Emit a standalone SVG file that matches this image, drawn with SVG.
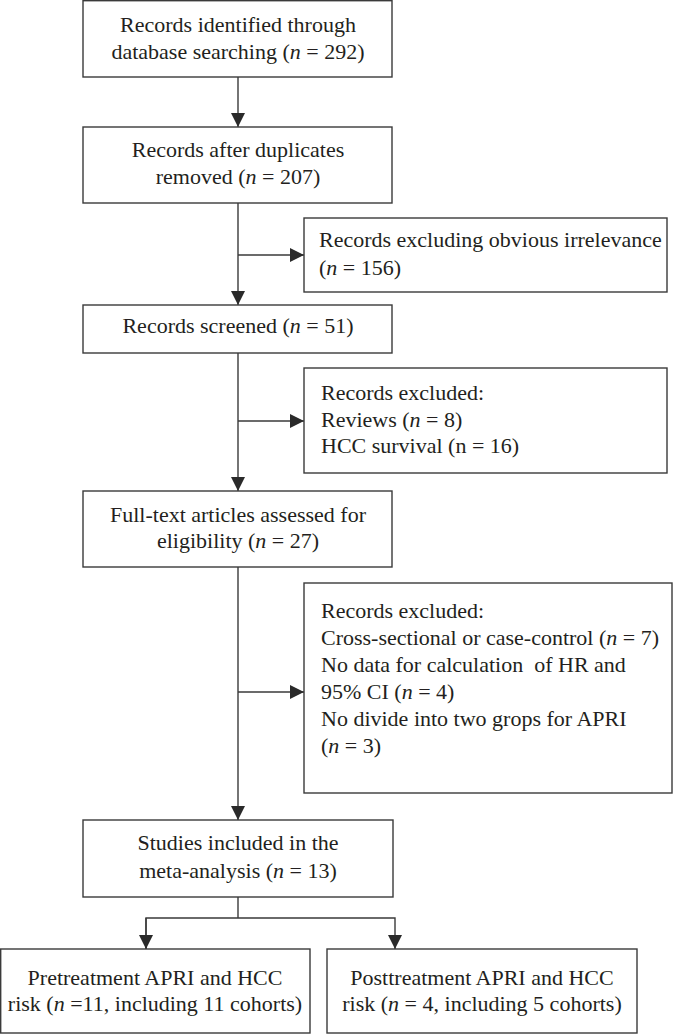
<svg xmlns="http://www.w3.org/2000/svg" width="673" height="1035" viewBox="0 0 673 1035">
<defs>
<style>
.box{fill:#fff;stroke:#3a3a3a;stroke-width:1.4}
.ln{fill:none;stroke:#3a3a3a;stroke-width:1.4}
text{font-family:"Liberation Serif","Times New Roman",serif;font-size:22px;fill:#231f20}
.c{text-anchor:middle}
.i{font-style:italic}
</style>
<marker id="ah" markerUnits="userSpaceOnUse" markerWidth="14" markerHeight="14" viewBox="0 0 12 12" refX="12" refY="6" orient="auto">
<path d="M0,0 L12,6 L0,12 Z" fill="#2a2a2a"/>
</marker>
</defs>
<rect width="673" height="1035" fill="#fff"/>
<g id="connectors">
<line class="ln" x1="238" y1="77" x2="238" y2="127" marker-end="url(#ah)"/>
<line class="ln" x1="238" y1="203" x2="238" y2="305" marker-end="url(#ah)"/>
<line class="ln" x1="238" y1="255" x2="304" y2="255" marker-end="url(#ah)"/>
<line class="ln" x1="238" y1="353" x2="238" y2="491" marker-end="url(#ah)"/>
<line class="ln" x1="238" y1="421" x2="304" y2="421" marker-end="url(#ah)"/>
<line class="ln" x1="238" y1="567" x2="238" y2="820" marker-end="url(#ah)"/>
<line class="ln" x1="238" y1="692" x2="304" y2="692" marker-end="url(#ah)"/>
<line class="ln" x1="238" y1="897" x2="238" y2="918"/>
<polyline class="ln" points="146,949 146,918 395,918 395,949" marker-end="url(#ah)"/>
<line class="ln" x1="146" y1="918" x2="146" y2="949" marker-end="url(#ah)"/>
</g>
<g id="n1">
<rect class="box" x="83" y="0.7" width="309" height="76.3"/>
<text class="c" x="238" y="32">Records identified through</text>
<text class="c" x="238" y="59">database searching (<tspan class="i">n</tspan> = 292)</text>
</g>
<g id="n2">
<rect class="box" x="83" y="127" width="309" height="76"/>
<text class="c" x="238" y="157">Records after duplicates</text>
<text class="c" x="238" y="184">removed (<tspan class="i">n</tspan> = 207)</text>
</g>
<g id="n3">
<rect class="box" x="304" y="218" width="363" height="74"/>
<text x="319" y="247">Records excluding obvious irrelevance</text>
<text x="319" y="275">(<tspan class="i">n</tspan> = 156)</text>
</g>
<g id="n4">
<rect class="box" x="83" y="305" width="309" height="48"/>
<text class="c" x="238" y="333">Records screened (<tspan class="i">n</tspan> = 51)</text>
</g>
<g id="n5">
<rect class="box" x="304" y="368" width="363" height="105"/>
<text x="321" y="400">Records excluded:</text>
<text x="321" y="426.5">Reviews (<tspan class="i">n</tspan> = 8)</text>
<text x="321" y="453">HCC survival (n = 16)</text>
</g>
<g id="n6">
<rect class="box" x="83" y="491" width="309" height="76"/>
<text class="c" x="238" y="522">Full-text articles assessed for</text>
<text class="c" x="238" y="548">eligibility (<tspan class="i">n</tspan> = 27)</text>
</g>
<g id="n7">
<rect class="box" x="304" y="583" width="368" height="210"/>
<text x="321" y="618">Records excluded:</text>
<text x="321" y="645">Cross-sectional or case-control (<tspan class="i">n</tspan> = 7)</text>
<text x="321" y="672" xml:space="preserve">No data for calculation  of HR and</text>
<text x="321" y="699">95% CI (<tspan class="i">n</tspan> = 4)</text>
<text x="321" y="726">No divide into two grops for APRI</text>
<text x="321" y="753">(<tspan class="i">n</tspan> = 3)</text>
</g>
<g id="n8">
<rect class="box" x="83" y="820" width="310" height="77"/>
<text class="c" x="238" y="850">Studies included in the</text>
<text class="c" x="238" y="878">meta-analysis (<tspan class="i">n</tspan> = 13)</text>
</g>
<g id="n9">
<rect class="box" x="0.7" y="949" width="309.3" height="84"/>
<text class="c" x="155" y="985">Pretreatment APRI and HCC</text>
<text class="c" x="155" y="1011">risk (<tspan class="i">n</tspan> =11, including 11 cohorts)</text>
</g>
<g id="n10">
<rect class="box" x="327" y="949" width="310" height="84"/>
<text class="c" x="482" y="985">Posttreatment APRI and HCC</text>
<text class="c" x="482" y="1011">risk (<tspan class="i">n</tspan> = 4, including 5 cohorts)</text>
</g>
</svg>
